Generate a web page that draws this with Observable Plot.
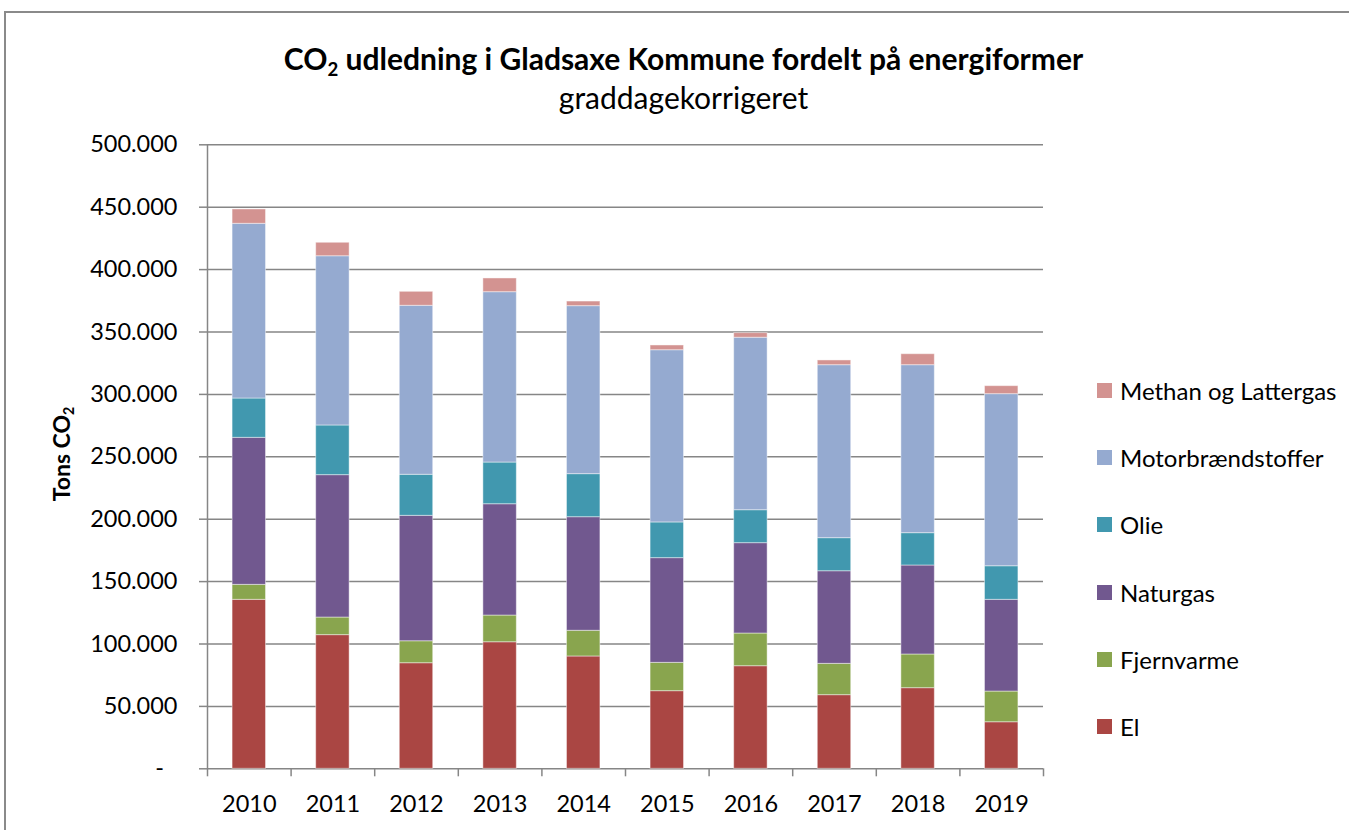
<!DOCTYPE html>
<html>
<head>
<meta charset="utf-8">
<script src="https://cdn.jsdelivr.net/npm/d3@7"></script>
<script src="https://cdn.jsdelivr.net/npm/@observablehq/plot@0.6"></script>
<style>
  html, body { margin: 0; padding: 0; background: #fff; }
  body { font-family: Lato, "Open Sans", sans-serif; color: #000; }
  #wrap { position: relative; width: 1349px; height: 830px; overflow: hidden; background: #fff; }
  #frame { position: absolute; left: 4px; top: 11px; width: 1420px; height: 900px; border: 2px solid #8a8a8a; box-sizing: border-box; }
  #chart { position: absolute; left: 0; top: 0; }
  #title { position: absolute; left: 0; width: 1367px; top: 40px; text-align: center; font-weight: bold; font-size: 30px; line-height: 36px; white-space: nowrap; }
  #subtitle { position: absolute; left: 0; width: 1367px; top: 79px; text-align: center; font-size: 30px; line-height: 36px; white-space: nowrap; }
  sub { font-size: 0.62em; vertical-align: -0.3em; line-height: 0; }
  #ytitle { position: absolute; left: 61px; top: 454px; transform: translate(-50%, -50%) rotate(-90deg); font-weight: bold; font-size: 23px; white-space: nowrap; line-height: 26px; }
  #legend { position: absolute; left: 1097px; top: 0; }
  .item { position: absolute; left: 0; display: flex; align-items: center; white-space: nowrap; font-size: 24px; height: 30px; }
  .sw { width: 15px; height: 15px; margin-right: 8px; flex: none; }
</style>
</head>
<body>
<div id="wrap">
  <div id="frame"></div>
  <div id="chart"></div>
  <div id="title">CO<sub>2</sub> udledning i Gladsaxe Kommune fordelt på energiformer</div>
  <div id="subtitle">graddagekorrigeret</div>
  <div id="ytitle">Tons CO<sub>2</sub></div>
  <div id="legend"></div>
</div>
<script>
// ---- data (tons CO2) ----
const years = [2010, 2011, 2012, 2013, 2014, 2015, 2016, 2017, 2018, 2019];
const el          = [135400, 107100, 84600, 101400, 90000, 62200, 82200, 59000, 64600, 37300];
const fjernvarme  = [12000, 14100, 17600, 21400, 20600, 22700, 26200, 25100, 27000, 24600];
const naturgas    = [117800, 114100, 100500, 89200, 91000, 83900, 72400, 74200, 71300, 73500];
const olie        = [31500, 39800, 32900, 33400, 34500, 28600, 26400, 26500, 25900, 26900];
const motor       = [140000, 135600, 135400, 136500, 134600, 138000, 138200, 138600, 134600, 137900];
const methan      = [11500, 10800, 11200, 11000, 3700, 3800, 3700, 3800, 8800, 6400];

const seriesNames  = ["El", "Fjernvarme", "Naturgas", "Olie", "Motorbrændstoffer", "Methan og Lattergas"];
const seriesColors = ["#AA4643", "#89A54E", "#71588F", "#4198AF", "#95AAD0", "#D39391"];
const yTicks = [0, 50000, 100000, 150000, 200000, 250000, 300000, 350000, 400000, 450000, 500000];

// ---- build table ----
const seriesValues = [el, fjernvarme, naturgas, olie, motor, methan];
const rows = seriesNames.flatMap((name, i) =>
  years.map((year, j) => ({year, type: name, value: seriesValues[i][j]})));
const bounds = [years[0] - 0.5, ...years.map(y => y + 0.5)];
const half = 0.2; // bar half-width in category units (gap width 150%)
const gray = "#868686";
const fmt = d => d === 0 ? "-\u2007" : d3.format(",")(d).replace(/,/g, ".");

const chart = Plot.plot({
  width: 1349,
  height: 830,
  marginTop: 144.3,
  marginBottom: 61.7,
  marginLeft: 207,
  marginRight: 306,
  x: {domain: [bounds[0], bounds[bounds.length - 1]]},
  y: {domain: [0, 500000]},
  color: {domain: seriesNames, range: seriesColors},
  style: {fontFamily: "Lato, 'Open Sans', sans-serif", fontSize: "23.5px", color: "black", background: "transparent", overflow: "visible"},
  marks: [
    Plot.ruleY(yTicks, {stroke: gray, strokeWidth: 1.5}),
    Plot.rectY(rows, Plot.stackY({
      x1: d => d.year - half,
      x2: d => d.year + half,
      y: "value",
      fill: "type",
      order: seriesNames,
      stroke: "white",
      strokeOpacity: 0.45,
      strokeWidth: 1
    })),
    Plot.ruleX([bounds[0]], {stroke: gray, strokeWidth: 1.5}),
    Plot.axisY({ticks: yTicks, tickSize: 8, tickFormat: () => "", stroke: gray, strokeWidth: 1.5, label: null}),
    Plot.axisY({ticks: yTicks, tickSize: 0, tickPadding: 30, tickFormat: fmt, label: null}),
    Plot.axisX({ticks: bounds, tickSize: 8, tickFormat: () => "", stroke: gray, strokeWidth: 1.5, label: null}),
    Plot.axisX({ticks: years, tickSize: 0, tickPadding: 27, tickFormat: d => String(d), label: null})
  ]
});
document.getElementById("chart").appendChild(chart);

// ---- legend (top item = last series) ----
const legend = document.getElementById("legend");
const legendTop = 390.5, legendStep = 67.2;
seriesNames.slice().reverse().forEach((name, k) => {
  const idx = seriesNames.indexOf(name);
  const item = document.createElement("div");
  item.className = "item";
  item.style.top = (legendTop + k * legendStep - 15) + "px";
  const sw = document.createElement("div");
  sw.className = "sw";
  sw.style.background = seriesColors[idx];
  const label = document.createElement("span");
  label.textContent = name;
  item.appendChild(sw);
  item.appendChild(label);
  legend.appendChild(item);
});
</script>
</body>
</html>
